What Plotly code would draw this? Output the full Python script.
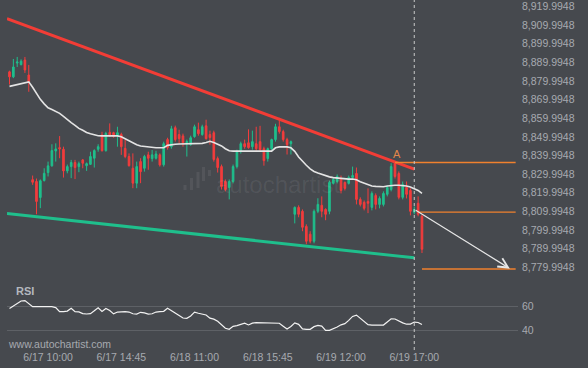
import plotly.graph_objects as go

# ---------------- data ----------------
bar_index = list(range(108))

open_ = [8884.9, 8882.2, 8889.6, 8888.8, 8891.2, 8883.2, 8827.0, 8826.0, 8817.4, 8826.5,
         8830.8, 8834.4, 8842.4, 8844.2, 8843.3, 8831.7, 8834.0, 8836.2, 8834.0, 8837.6,
         8834.5, 8835.2, 8838.5, 8843.3, 8851.0, 8842.6, 8852.4, 8852.2, 8850.6, 8851.3,
         8843.8, 8839.4, 8833.1, 8825.1, 8836.7, 8833.1, 8840.3, 8838.3, 8838.5, 8840.3,
         8835.0, 8848.5, 8844.7, 8854.9, 8851.2, 8850.5, 8846.3, 8845.8, 8850.1, 8853.8,
         8851.2, 8855.9, 8851.2, 8852.2, 8838.3, 8834.0, 8826.0, 8822.8, 8826.0, 8834.0,
         8842.1, 8846.3, 8846.8, 8844.7, 8846.3, 8847.4, 8843.6, 8838.3, 8843.6, 8848.5,
         8855.4, 8852.8, 8848.5, 8846.3, 8808.4, 8812.1, 8810.0, 8801.9, 8797.7, 8793.9,
         8810.0, 8813.2, 8811.0, 8810.0, 8825.0, 8826.0, 8827.6, 8825.5, 8825.0, 8828.2,
         8830.3, 8816.4, 8814.8, 8815.3, 8812.1, 8818.5, 8813.7, 8813.7, 8819.1, 8821.7,
         8835.8, 8830.3, 8817.5, 8822.8, 8821.2, 8809.5, 8814.3, 8807.3]
high = [8885.5, 8891.8, 8892.9, 8891.6, 8892.9, 8888.6, 8829.2, 8827.6, 8827.1, 8833.1,
        8836.7, 8846.0, 8846.5, 8850.4, 8844.7, 8835.1, 8837.6, 8837.6, 8836.7, 8838.1,
        8836.2, 8842.0, 8843.3, 8846.0, 8852.7, 8852.7, 8857.2, 8852.7, 8855.4, 8852.2,
        8848.3, 8841.1, 8841.1, 8836.7, 8838.5, 8840.3, 8842.0, 8842.9, 8842.5, 8841.1,
        8847.4, 8849.5, 8855.9, 8856.0, 8853.8, 8851.7, 8848.5, 8850.6, 8856.5, 8857.6,
        8856.5, 8859.2, 8853.3, 8853.3, 8839.4, 8835.1, 8827.1, 8827.1, 8835.1, 8843.1,
        8847.4, 8848.5, 8854.0, 8853.3, 8855.4, 8855.9, 8844.7, 8844.2, 8849.0, 8857.0,
        8860.2, 8853.8, 8849.5, 8848.0, 8812.6, 8813.2, 8811.0, 8803.0, 8799.3, 8811.0,
        8817.0, 8818.0, 8811.6, 8826.5, 8828.2, 8829.8, 8829.2, 8826.0, 8829.2, 8834.0,
        8833.5, 8817.5, 8815.8, 8822.3, 8820.7, 8819.6, 8818.0, 8820.7, 8823.8, 8835.8,
        8836.7, 8831.4, 8826.0, 8826.0, 8822.3, 8812.6, 8818.0, 8808.4]
low = [8878.1, 8881.5, 8887.5, 8888.3, 8884.3, 8874.2, 8824.2, 8808.4, 8811.7, 8826.0,
       8828.7, 8834.0, 8836.7, 8838.5, 8828.1, 8830.4, 8827.8, 8827.3, 8831.0, 8833.1,
       8831.7, 8834.9, 8833.5, 8842.0, 8842.0, 8842.0, 8850.0, 8849.5, 8844.7, 8840.3,
       8838.5, 8834.0, 8822.4, 8822.4, 8825.1, 8831.3, 8832.3, 8836.7, 8837.8, 8834.0,
       8834.0, 8843.1, 8843.6, 8847.4, 8846.3, 8844.7, 8839.4, 8845.2, 8849.5, 8850.6,
       8850.6, 8848.5, 8845.8, 8836.7, 8830.8, 8821.7, 8820.7, 8816.4, 8825.0, 8833.0,
       8841.0, 8843.6, 8843.6, 8843.1, 8842.6, 8842.6, 8834.5, 8836.7, 8842.6, 8847.4,
       8851.7, 8847.4, 8840.5, 8840.5, 8803.5, 8806.8, 8799.3, 8792.3, 8792.8, 8792.8,
       8809.0, 8806.8, 8805.2, 8808.4, 8824.4, 8825.0, 8819.6, 8821.2, 8824.4, 8827.6,
       8813.7, 8812.6, 8810.5, 8809.0, 8810.5, 8811.0, 8811.6, 8812.6, 8818.0, 8820.7,
       8827.6, 8816.4, 8816.4, 8816.9, 8807.8, 8808.4, 8807.3, 8787.6]
close = [8882.2, 8887.5, 8890.2, 8890.6, 8885.9, 8879.5, 8825.6, 8815.3, 8826.4, 8830.4,
         8834.4, 8842.6, 8843.5, 8843.5, 8831.7, 8834.0, 8836.2, 8833.5, 8835.6, 8835.8,
         8835.6, 8839.4, 8842.6, 8844.7, 8842.6, 8851.8, 8850.6, 8850.2, 8852.2, 8844.7,
         8839.4, 8834.5, 8825.1, 8834.0, 8831.3, 8839.4, 8838.5, 8840.3, 8840.8, 8834.9,
         8846.3, 8844.2, 8854.3, 8848.5, 8849.0, 8846.8, 8847.5, 8849.5, 8855.4, 8851.7,
         8855.4, 8849.0, 8849.6, 8837.8, 8833.5, 8823.3, 8821.7, 8826.0, 8834.0, 8842.1,
         8846.3, 8844.7, 8844.2, 8847.4, 8843.6, 8843.1, 8837.2, 8843.6, 8848.5, 8855.4,
         8852.8, 8848.5, 8845.8, 8847.4, 8812.1, 8808.4, 8801.4, 8793.9, 8793.9, 8810.0,
         8813.7, 8810.0, 8808.4, 8825.5, 8827.1, 8828.7, 8821.2, 8822.3, 8828.2, 8829.2,
         8816.4, 8813.7, 8811.6, 8814.3, 8819.6, 8813.7, 8816.9, 8819.6, 8822.8, 8834.0,
         8828.7, 8817.5, 8824.4, 8819.1, 8810.0, 8811.0, 8808.4, 8789.6]

moving_avg = [8877.1, 8877.6, 8878.2, 8878.7, 8879.2, 8879.5, 8876.6, 8873.1, 8870.1, 8867.7,
              8865.6, 8864.7, 8863.7, 8862.6, 8861.0, 8859.2, 8857.6, 8856.2, 8854.5, 8853.5,
              8852.3, 8851.6, 8851.0, 8850.6, 8850.5, 8850.5, 8850.5, 8850.8, 8850.5, 8850.0,
              8848.9, 8847.6, 8846.5, 8845.7, 8845.1, 8844.8, 8844.6, 8844.3, 8844.1, 8844.1,
              8844.1, 8845.4, 8845.8, 8846.0, 8846.1, 8846.1, 8846.1, 8846.1, 8846.2, 8846.3,
              8846.5, 8846.9, 8847.6, 8847.0, 8846.0, 8845.1, 8843.6, 8842.5, 8842.3, 8842.3,
              8842.3, 8842.3, 8842.3, 8842.3, 8842.3, 8842.3, 8842.3, 8842.3, 8842.3, 8844.1,
              8844.6, 8844.6, 8844.6, 8844.1, 8842.2, 8839.2, 8836.8, 8834.7, 8832.8, 8831.4,
              8830.6, 8829.8, 8829.0, 8828.5, 8828.1, 8827.8, 8827.6, 8827.4, 8827.3, 8827.3,
              8826.9, 8825.9, 8825.1, 8824.2, 8823.6, 8823.4, 8823.1, 8823.2, 8823.6, 8823.9,
              8824.0, 8824.0, 8823.9, 8823.6, 8823.1, 8822.3, 8821.2, 8819.6]

rsi = [57.9, 60.0, 62.0, 64.1, 64.4, 61.6, 59.5, 59.5, 59.5, 59.5,
       59.5, 59.5, 58.7, 55.3, 55.3, 55.8, 58.2, 55.3, 55.1, 53.7,
       53.4, 53.7, 56.1, 58.6, 55.5, 58.0, 56.3, 53.5, 55.0, 55.3,
       55.3, 55.0, 53.6, 53.4, 54.8, 54.3, 53.4, 53.6, 55.0, 55.3,
       55.6, 58.1, 56.3, 54.2, 52.2, 50.1, 49.9, 51.8, 54.9, 54.0,
       53.4, 52.6, 50.0, 49.2, 47.4, 44.5, 41.7, 40.8, 43.3, 43.9,
       44.8, 45.8, 44.4, 45.9, 46.3, 46.3, 46.3, 46.3, 46.3, 46.3,
       45.8, 43.4, 41.0, 43.2, 46.1, 44.9, 41.2, 40.8, 40.8, 43.0,
       44.0, 43.5, 40.0, 39.9, 41.2, 42.7, 44.5, 45.5, 48.2, 51.4,
       52.5, 49.8, 47.1, 44.6, 44.3, 44.3, 44.3, 44.3, 46.8, 49.4,
       49.3, 47.6, 46.1, 45.0, 45.1, 46.8, 46.4, 44.7]

tick_index = [10, 29, 48, 67, 86, 105]
tick_text = ["6/17 10:00", "6/17 14:45", "6/18 11:00", "6/18 15:45", "6/19 12:00", "6/19 17:00"]
price_ticks = [8779.9948, 8789.9948, 8799.9948, 8809.9948, 8819.9948, 8829.9948, 8839.9948,
               8849.9948, 8859.9948, 8869.9948, 8879.9948, 8889.9948, 8899.9948, 8909.9948,
               8919.9948]
rsi_ticks = [40, 60]

# pattern (channel) lines
resistance_x = [-0.65, 105]
resistance_y = [8913.5, 8832.6]
support_x = [-0.65, 105]
support_y = [8808.8, 8785.0]

# levels: (start index, end index, price)
level_a = (100, 131.3, 8836.2)
level_break = (106, 131.3, 8809.6)
level_target = (107, 131.3, 8779.0)
forecast_start = (105, 8811.1)
forecast_end = (129.8, 8779.2)
current_bar = 105

# ---------------- style ----------------
BG = "#46494e"
TXT = "#a6aab0"
GREEN = "#1fbf8c"
RED = "#f33c3c"
ORANGE = "#f0812e"
FONT = "Liberation Sans, Arial, sans-serif"

W, H = 588, 368
ML, MR, MT, MB = 7, 70, 0, 23
PW = W - ML - MR
PH = H - MT - MB


def px_to_paper(px, py):
    return (px - ML) / PW, (H - MB - py) / PH


fig = go.Figure()

fig.add_trace(go.Candlestick(
    x=bar_index, open=open_, high=high, low=low, close=close,
    increasing=dict(line=dict(color=GREEN, width=1), fillcolor=GREEN),
    decreasing=dict(line=dict(color=RED, width=1), fillcolor=RED),
    whiskerwidth=0, hoverinfo="skip", showlegend=False, xaxis="x", yaxis="y"))

fig.add_trace(go.Scatter(x=bar_index, y=moving_avg, mode="lines",
                         line=dict(color="#e4e4e4", width=1.6),
                         hoverinfo="skip", showlegend=False, xaxis="x", yaxis="y"))

fig.add_trace(go.Scatter(x=resistance_x, y=resistance_y, mode="lines",
                         line=dict(color="#f23d36", width=3),
                         hoverinfo="skip", showlegend=False, xaxis="x", yaxis="y"))
fig.add_trace(go.Scatter(x=support_x, y=support_y, mode="lines",
                         line=dict(color="#1fbf8c", width=3),
                         hoverinfo="skip", showlegend=False, xaxis="x", yaxis="y"))

for lv in (level_a, level_break, level_target):
    fig.add_trace(go.Scatter(x=[lv[0], lv[1]], y=[lv[2], lv[2]], mode="lines",
                             line=dict(color=ORANGE, width=1.3),
                             hoverinfo="skip", showlegend=False, xaxis="x", yaxis="y"))

fig.add_trace(go.Scatter(x=bar_index, y=rsi, mode="lines",
                         line=dict(color="#f2f2f2", width=1.2),
                         hoverinfo="skip", showlegend=False, xaxis="x", yaxis="y2"))

# forecast arrow
fig.add_annotation(x=forecast_end[0], y=forecast_end[1], ax=forecast_start[0], ay=forecast_start[1],
                   xref="x", yref="y", axref="x", ayref="y", showarrow=True, text="",
                   arrowhead=5, arrowsize=1.6, arrowwidth=1.2, arrowcolor="#e6e6e6")

# "A" point label
fig.add_annotation(x=level_a[0] + 0.6, y=level_a[2], xref="x", yref="y", text="A",
                   showarrow=False, yanchor="bottom", yshift=1,
                   font=dict(family=FONT, size=11, color="#e2864a"))

# current-bar dashed line
fig.add_shape(type="line", xref="x", yref="paper", x0=current_bar, x1=current_bar,
              y0=-5 / PH, y1=1, line=dict(color="#c9c9c9", width=1, dash="3px,3px"))

# watermark
wx, wy = px_to_paper(278, 184)
fig.add_annotation(x=wx, y=wy, xref="paper", yref="paper", text="autochartist",
                   showarrow=False, font=dict(family=FONT, size=24, color="rgba(255,255,255,0.07)"))
logo_bars = [(183.5, 186.5, 185, 190), (190, 193, 178, 190), (196.5, 199.5, 172, 188),
             (202, 205, 167, 181), (208, 211, 170, 176)]
for x0p, x1p, y0p, y1p in logo_bars:
    a0, b0 = px_to_paper(x0p, y1p)
    a1, b1 = px_to_paper(x1p, y0p)
    fig.add_shape(type="rect", xref="paper", yref="paper", x0=a0, x1=a1, y0=b0, y1=b1,
                  line=dict(width=0), fillcolor="rgba(255,255,255,0.07)")

# RSI label and site text
rx, ry = px_to_paper(14, 291)
fig.add_annotation(x=rx, y=ry, xref="paper", yref="paper", text="<b>RSI</b>", showarrow=False,
                   xanchor="left", yanchor="middle", font=dict(family=FONT, size=11, color="#b4b8be"))
sx, sy = px_to_paper(5.5, 344.0)
fig.add_annotation(x=sx, y=sy, xref="paper", yref="paper", text="www.autochartist.com",
                   showarrow=False, xanchor="left", yanchor="middle",
                   font=dict(family=FONT, size=10.5, color=TXT))

fig.update_layout(
    width=W, height=H, margin=dict(l=ML, r=MR, t=MT, b=MB, pad=0, autoexpand=False),
    paper_bgcolor=BG, plot_bgcolor=BG, showlegend=False, boxgap=0.4,
    font=dict(family=FONT, size=10.5, color=TXT),
    xaxis=dict(range=[-0.6485, 131.91], anchor="y2", tickmode="array", tickvals=tick_index,
               ticktext=tick_text, showgrid=False, zeroline=False, showline=False, ticks="",
               automargin=False, rangeslider=dict(visible=False), ticklabelstandoff=4,
               tickfont=dict(size=10.5, color=TXT)),
    yaxis=dict(domain=[0.2029, 1], range=[8775.79, 8923.47], side="right", anchor="x",
               tickmode="array", tickvals=price_ticks, tickformat=",.4f", showgrid=False,
               zeroline=False, showline=False, ticks="", automargin=False,
               ticklabeloverflow="allow", ticklabelstandoff=3,
               tickfont=dict(size=10.5, color=TXT)),
    yaxis2=dict(domain=[0, 0.19], range=[27.9, 81.85], side="right", anchor="x",
                tickmode="array", tickvals=rsi_ticks, showgrid=True, gridcolor="#5e6166",
                gridwidth=1, zeroline=False, showline=False, ticks="", automargin=False,
                ticklabeloverflow="allow", ticklabelstandoff=3,
                tickfont=dict(size=10.5, color=TXT)),
)

fig.write_html("out.html", config={"displayModeBar": False, "staticPlot": True},
               post_script="document.body.style.margin='0px';document.body.style.padding='0px';")
